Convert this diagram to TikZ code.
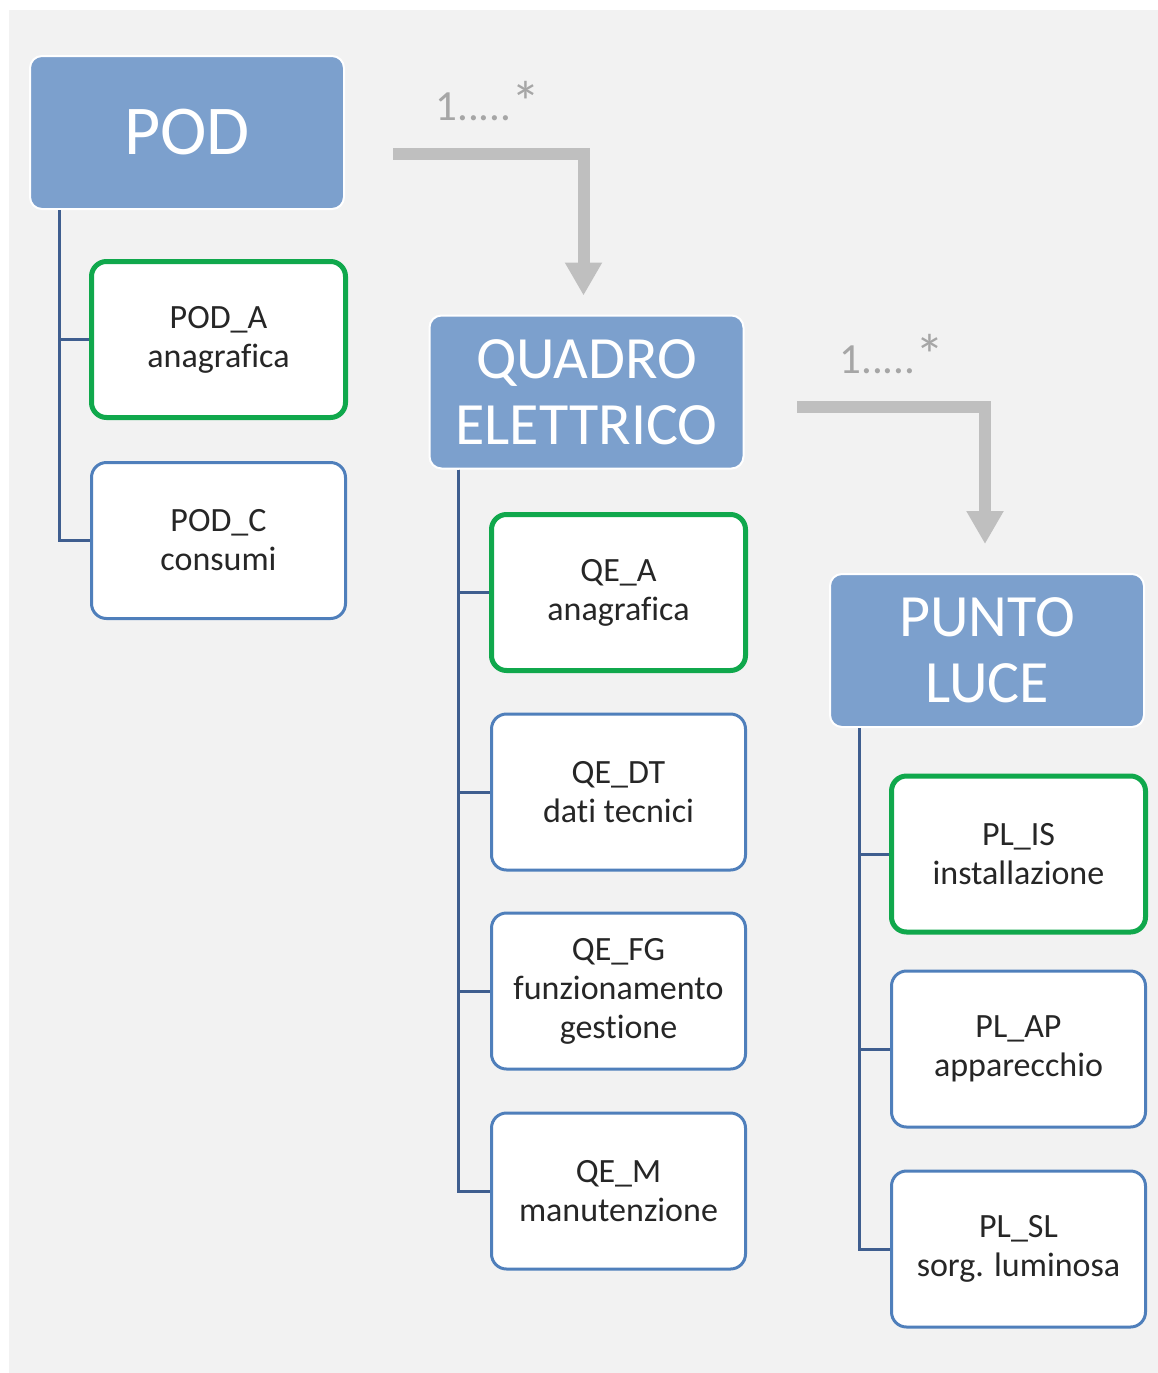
\documentclass[tikz,border=0pt]{standalone}
\usepackage{fontspec}
\setmainfont{Carlito}[Ligatures=CommonOff]
\usetikzlibrary{arrows.meta}
\definecolor{bggray}{HTML}{F2F2F2}
\definecolor{hdrblue}{RGB}{124,160,205}
\definecolor{bordblue}{HTML}{4F7FBB}
\definecolor{treeblue}{HTML}{3F5E8F}
\definecolor{keygreen}{HTML}{10A84C}
\definecolor{arrgray}{HTML}{BFBFBF}
\definecolor{lblgray}{HTML}{A6A6A6}
\definecolor{textgray}{HTML}{262626}
\begin{document}
\begin{tikzpicture}[x=1pt,y=-1pt,
  header/.style={rectangle, rounded corners=12pt, fill=hdrblue, draw=white, line width=2pt,
    minimum width=314pt, minimum height=153pt, inner sep=0pt, text=white, align=center,
    font=\fontsize{60}{66}\selectfont},
  childbox/.style={rectangle, rounded corners=15pt, fill=white, draw=bordblue, line width=3pt,
    minimum width=254pt, minimum height=156pt, inner sep=0pt, align=center, text=textgray,
    font=\fontsize{34}{39}\selectfont},
  keybox/.style={childbox, draw=keygreen, line width=5pt},
  tree/.style={draw=treeblue, line width=3pt},
  conn/.style={draw=arrgray, line width=12pt, -{Triangle[width=35pt,length=33pt]}},
  mult/.style={text=lblgray, font=\fontsize{43}{50}\selectfont, anchor=base, inner sep=0pt}]
\useasboundingbox (0,0) rectangle (1158,1373);
\fill[bggray] (9,10) rectangle (1158,1373);

% headers
\node[header, font=\fontsize{70}{80}\selectfont] (pod) at (187,132.5) {POD};
\node[header] (qe) at (586.5,392) {QUADRO\\ELETTRICO};
\node[header] (pl) at (987,650.5) {PUNTO\\LUCE};

% children
\node[keybox] (poda) at (218.5,339.5) {POD\_A\\anagrafica};
\node[childbox] (podc) at (218.5,540.5) {POD\_C\\consumi};

\node[keybox] (qea) at (618.5,592.5) {QE\_A\\anagrafica};
\node[childbox] (qedt) at (618.5,792) {QE\_DT\\dati tecnici};
\node[childbox] (qefg) at (618.5,991) {QE\_FG\\funzionamento\\gestione};
\node[childbox] (qem) at (618.5,1191) {QE\_M\\manutenzione};

\node[keybox] (plis) at (1018.5,854) {PL\_IS\\installazione};
\node[childbox] (plap) at (1018.5,1049) {PL\_AP\\apparecchio};
\node[childbox] (plsl) at (1018.5,1249) {PL\_SL\\sorg. luminosa};

% tree lines
\draw[tree] (pod.south west) ++(30,0) |- (poda.west);
\draw[tree] (pod.south west) ++(30,0) |- (podc.west);
\draw[tree] (qe.south west) ++(30,0) |- (qea.west);
\draw[tree] (qe.south west) ++(30,0) |- (qedt.west);
\draw[tree] (qe.south west) ++(30,0) |- (qefg.west);
\draw[tree] (qe.south west) ++(30,0) |- (qem.west);
\draw[tree] (pl.south west) ++(30,0) |- (plis.west);
\draw[tree] (pl.south west) ++(30,0) |- (plap.west);
\draw[tree] (pl.south west) ++(30,0) |- (plsl.west);

% multiplicity connectors
\coordinate (a1) at (393,153.5);
\coordinate (a2) at (797,406.5);
\draw[conn, shorten >=19pt] (a1) -| ([xshift=-3pt]qe.north);
\draw[conn, shorten >=29pt] (a2) -| ([xshift=-2pt]pl.north);
\node[mult] (m1) at (488,120) {1.....\raisebox{-2pt}{\scalebox{1.35}{*}}};
\node[mult] (m2) at (892,373) {1.....\raisebox{-2pt}{\scalebox{1.35}{*}}};
\end{tikzpicture}
\end{document}
